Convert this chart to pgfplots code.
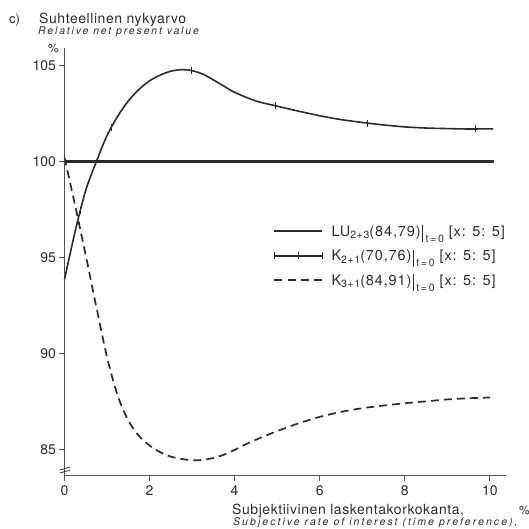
\documentclass[border=0pt]{standalone}
\usepackage{pgfplots}
\pgfplotsset{compat=1.18}
\usepackage{fontspec}
\setmainfont{TeX Gyre Heros}
\newfontfamily\spacedfont[LetterSpace=4]{TeX Gyre Heros}
\newfontfamily\legendfont[LetterSpace=6]{TeX Gyre Heros}
\newfontfamily\spaceditalic[LetterSpace=17.5]{TeX Gyre Heros}
\newfontfamily\wideitalic[LetterSpace=19.5]{TeX Gyre Heros}
\definecolor{ink}{HTML}{2B2B2B}
\definecolor{axisgray}{HTML}{555555}

% lowered small index in legend labels
\newcommand\lsub[2][2.5pt]{\raisebox{-#1}{\fontsize{10.5}{10.5}\legendfont #2}}
% evaluation bar  |_{t=0}
\newcommand\evalbar{\hspace{1.5pt}\rule[-6pt]{0.9pt}{17pt}\hspace{2.5pt}}

\begin{document}
\begin{tikzpicture}[x=1pt,y=1pt]
\useasboundingbox (0,0) rectangle (529,529);

% headings
\node[anchor=base west, inner sep=0pt, text=ink, font=\fontsize{13}{13}\selectfont] at (9,505) {c)};
\node[anchor=base west, inner sep=0pt, text=ink, font=\fontsize{14}{14}\spacedfont] at (39,505.7) {Suhteellinen nykyarvo};
\node[anchor=base west, inner sep=0pt, text=ink, font=\fontsize{10.5}{10.5}\spaceditalic\itshape] at (38,494.7) {Relative net present value};
\node[anchor=base west, inner sep=0pt, text=ink, font=\fontsize{12}{12}\selectfont] at (48,476) {\%};

% x-axis caption
\node[anchor=base west, inner sep=0pt, text=ink, font=\fontsize{14}{14}\spacedfont] at (232,14.5) {Subjektiivinen laskentakorkokanta,};
\node[anchor=base west, inner sep=0pt, text=ink, font=\fontsize{12}{12}\selectfont] at (519,14.5) {\%};
\node[anchor=base west, inner sep=0pt, text=ink, font=\fontsize{10.5}{10.5}\wideitalic\itshape] at (233,3) {Subjective rate of interest (time preference),};

\begin{axis}[
  at={(64.5pt,53pt)}, anchor=south west,
  scale only axis, width=441.5pt, height=428pt,
  xmin=0, xmax=10.38, ymin=83.61, ymax=105.91,
  axis x line*=bottom, axis y line*=left,
  axis line style={axisgray, line width=1pt},
  xtick={0,2,...,10}, ytick={85,90,...,105},
  tick align=outside, major tick length=5pt,
  tick style={axisgray, line width=0.8pt},
  tick label style={font=\fontsize{14}{14}\selectfont, text=ink},
  xticklabel style={yshift=-1.5pt},
  /pgf/number format/assume math mode=true,
  clip=false,
  legend cell align=left,
  legend style={draw=none, fill=none, at={(axis cs:4.9,96.75)}, anchor=north west,
    inner sep=0pt, row sep=10pt, font=\fontsize{14.5}{16}\legendfont, text=ink,
    nodes={inner sep=1pt},
    /tikz/every odd column/.append style={column sep=7pt}},
]

% LU 2+3
\addplot[ink, line width=2.4pt, forget plot] coordinates {(0,100) (10.1,100)};

% K 2+1
\addplot[ink, line width=1.6pt, smooth, tension=0.5, forget plot] coordinates {
  (0,93.85) (0.25,96.35) (0.5,98.5) (0.75,100.0) (1.0,101.35) (1.25,102.35)
  (1.5,103.15) (1.75,103.75) (2.0,104.2) (2.25,104.5) (2.5,104.7) (2.75,104.78)
  (3.0,104.73) (3.25,104.55) (3.5,104.25) (3.75,103.92) (4.0,103.6) (4.5,103.15)
  (5.0,102.88) (5.5,102.62) (6.0,102.38) (6.5,102.18) (7.0,102.03) (7.5,101.9)
  (8.0,101.8) (8.5,101.74) (9.0,101.71) (9.5,101.69) (10.08,101.7)
};
\addplot[ink, only marks, mark=|, mark size=3.5pt, mark options={line width=0.9pt}, forget plot] coordinates {
  (0.37,97.45) (1.1,101.77) (2.98,104.74) (4.96,102.9) (7.12,102.0) (9.67,101.69)
};

% K 3+1
\addplot[ink, line width=1.7pt, dash pattern=on 8pt off 5pt, smooth, tension=0.5, forget plot] coordinates {
  (0,100.2) (0.25,97.7) (0.5,95.1) (0.75,92.4) (1.0,89.8) (1.25,87.8) (1.5,86.5)
  (1.75,85.7) (2.0,85.2) (2.25,84.85) (2.5,84.62) (2.75,84.5) (3.0,84.43)
  (3.25,84.45) (3.5,84.55) (3.75,84.72) (4.0,84.97) (4.25,85.25) (4.5,85.5)
  (5.0,85.95) (5.5,86.35) (6.0,86.69) (6.5,86.95) (7.0,87.14) (7.5,87.28)
  (8.0,87.4) (8.5,87.5) (9.0,87.6) (9.5,87.66) (10.0,87.7)
};

% axis break on the y axis
\draw[ink, line width=0.8pt] (axis cs:-0.106,83.77) -- (axis cs:0.129,83.92);
\draw[ink, line width=0.8pt] (axis cs:-0.106,83.92) -- (axis cs:0.129,84.08);

\addlegendimage{legend image code/.code={\draw[ink, line width=2.4pt] (0pt,0pt) -- (48pt,0pt);}}
\addlegendentry{LU\lsub{2+3}(84,79)\evalbar\lsub[6pt]{t\,=\,0}\ [x: 5: 5]}
\addlegendimage{legend image code/.code={
  \draw[ink, line width=1.6pt] (0pt,0pt) -- (48pt,0pt);
  \draw[ink, line width=0.9pt] (0pt,-3.5pt) -- (0pt,3.5pt) (24pt,-3.5pt) -- (24pt,3.5pt) (48pt,-3.5pt) -- (48pt,3.5pt);}}
\addlegendentry{K\lsub{2+1}(70,76)\evalbar\lsub[6pt]{t\,=\,0}\ [x: 5: 5]}
\addlegendimage{legend image code/.code={\draw[ink, line width=1.7pt, dash pattern=on 8pt off 5.3pt] (0pt,0pt) -- (48pt,0pt);}}
\addlegendentry{K\lsub{3+1}(84,91)\evalbar\lsub[6pt]{t\,=\,0}\ [x: 5: 5]}
\end{axis}
\end{tikzpicture}
\end{document}
